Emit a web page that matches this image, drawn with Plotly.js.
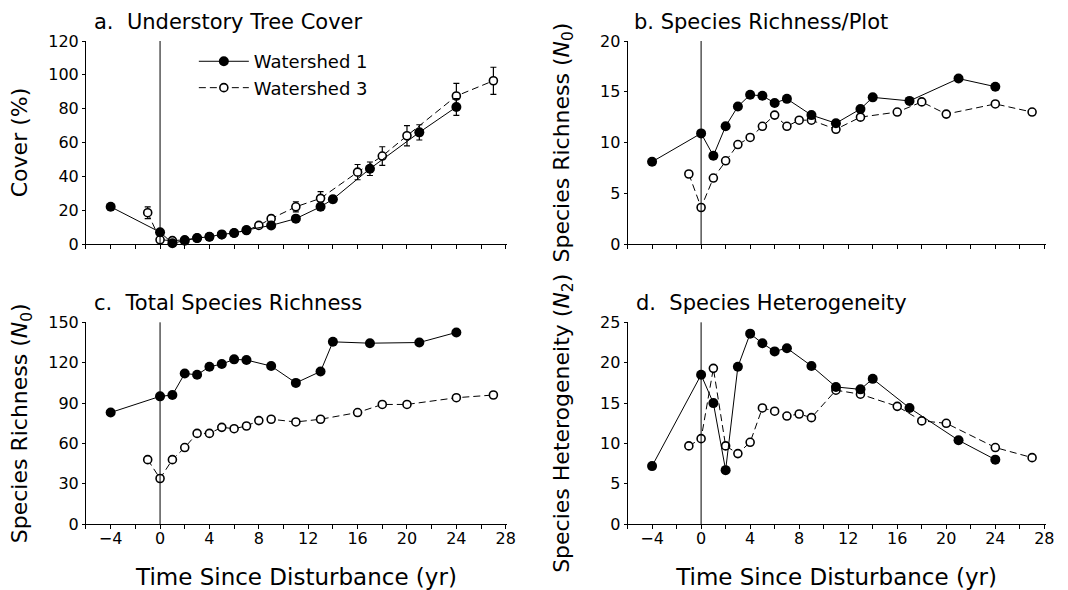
<!DOCTYPE html>
<html>
<head>
<meta charset="utf-8">
<script src="https://cdn.plot.ly/plotly-3.0.1.min.js"></script>
<style>html,body{margin:0;padding:0;background:#fff;}#chart{width:1068px;height:590px;}</style>
</head>
<body>
<div id="chart"></div>
<script>
// Years sampled for each watershed
const yearsW1 = [-4, 0, 1, 2, 3, 4, 5, 6, 7, 9, 11, 13, 14, 17, 21, 24];
const yearsW3 = [-1, 0, 1, 2, 3, 4, 5, 6, 7, 8, 9, 11, 13, 16, 18, 20, 24, 27];

// a. Understory tree cover (%)
const coverW1 = [22, 7, 0.5, 2, 3.5, 4.3, 5.7, 6.5, 8.3, 11, 15, 22, 26.5, 44.5, 66, 81];
const coverErrW1 = [0, 0, 0, 0, 0, 0, 0, 0, 0, 1, 1.5, 2, 2, 4, 4.5, 5];
const coverW3 = [18.5, 2.5, 2, 2.5, 3.5, 4.3, 5.5, 6.5, 8, 11, 15, 22, 27, 42.5, 52, 64, 87.5, 96.5];
const coverErrW3 = [3.5, 0, 0, 0, 0, 0, 0, 0, 0, 1.5, 2, 3, 4, 4.5, 5.5, 6, 7.5, 8];

// b. Species richness per plot (N0)
const richPlotW1 = [8.1, 10.9, 8.7, 11.6, 13.55, 14.7, 14.6, 13.9, 14.3, 12.7, 11.9, 13.3, 14.45, 14.1, 16.3, 15.5];
const richPlotW3 = [6.9, 3.6, 6.5, 8.2, 9.8, 10.5, 11.6, 12.7, 11.6, 12.2, 12.2, 11.3, 12.5, 13.0, 14.0, 12.8, 13.8, 13.0];

// c. Total species richness (N0)
const richTotW1 = [83, 95, 96, 112, 111, 117, 119, 122.5, 122, 117.5, 105, 113.5, 135.5, 134.5, 135, 142.5];
const richTotW3 = [48, 34, 48, 57, 67.5, 67.5, 72, 71, 73, 77, 78, 76, 78, 83, 89, 89, 94, 96];

// d. Species heterogeneity (N2)
const hetW1 = [7.2, 18.5, 15.0, 6.7, 19.5, 23.6, 22.4, 21.4, 21.8, 19.6, 17.0, 16.7, 18.0, 14.4, 10.4, 8.0];
const hetW3 = [9.7, 10.6, 19.3, 9.7, 8.75, 10.15, 14.4, 14.0, 13.4, 13.65, 13.2, 16.6, 16.1, 14.6, 12.8, 12.5, 9.5, 8.25];

const seriesNames = ['Watershed 1', 'Watershed 3'];
const panelTitles = ['a.\u00a0 Understory Tree Cover', 'b. Species Richness/Plot',
                     'c.\u00a0 Total Species Richness', 'd.\u00a0 Species Heterogeneity'];
const yTitles = ['Cover (%)', 'Species Richness (<i>N</i><sub>0</sub>)',
                 'Species Richness (<i>N</i><sub>0</sub>)', 'Species Heterogeneity (<i>N</i><sub>2</sub>)'];
const xTitle = 'Time Since Disturbance (yr)';

const FONT = 'DejaVu Sans, Liberation Sans, sans-serif';

function w3Trace(y, xa, ya, err, legend) {
  const t = {
    x: yearsW3, y: y, xaxis: xa, yaxis: ya, type: 'scatter', mode: 'lines+markers',
    name: seriesNames[1], showlegend: !!legend, cliponaxis: false,
    line: {color: 'black', width: 1, dash: '7px,4px'},
    marker: {symbol: 'circle', size: 8, color: 'white', line: {color: 'black', width: 1.6}}
  };
  if (err) t.error_y = {type: 'data', array: err, visible: true, color: 'black', thickness: 1.2, width: 3};
  return t;
}
function w1Trace(y, xa, ya, err, legend) {
  const t = {
    x: yearsW1, y: y, xaxis: xa, yaxis: ya, type: 'scatter', mode: 'lines+markers',
    name: seriesNames[0], showlegend: !!legend, cliponaxis: false,
    line: {color: 'black', width: 1},
    marker: {symbol: 'circle', size: 10, color: 'black', line: {color: 'black', width: 0}}
  };
  if (err) t.error_y = {type: 'data', array: err, visible: true, color: 'black', thickness: 1.2, width: 3};
  return t;
}

const data = [
  w3Trace(coverW3, 'x', 'y', coverErrW3, true),
  w1Trace(coverW1, 'x', 'y', coverErrW1, true),
  w3Trace(richPlotW3, 'x2', 'y2'),
  w1Trace(richPlotW1, 'x2', 'y2'),
  w3Trace(richTotW3, 'x3', 'y3'),
  w1Trace(richTotW1, 'x3', 'y3'),
  w3Trace(hetW3, 'x4', 'y4'),
  w1Trace(hetW1, 'x4', 'y4')
];

const leftDom = [0.0805, 0.4747];
const rightDom = [0.5876, 0.979];
const topDom = [0.5864, 0.9305];
const botDom = [0.1114, 0.4537];

function xAxis(dom, anchor, labels) {
  const ax = {
    domain: dom, anchor: anchor, range: [-6, 28.1], showgrid: false, zeroline: false,
    showline: true, linecolor: 'black', linewidth: 1, mirror: false,
    tickmode: 'linear', tick0: 0, dtick: 4, ticks: 'outside', ticklen: 4, tickwidth: 1, tickcolor: 'black',
    minor: {tick0: 0, dtick: 2, ticks: 'outside', ticklen: 4, tickwidth: 1, tickcolor: 'black', showgrid: false},
    showticklabels: labels, tickfont: {family: FONT, size: 16, color: 'black'},
    automargin: false, fixedrange: true
  };
  if (labels) {
    ax.ticklabelstandoff = -4;
    ax.title = {text: xTitle, font: {family: FONT, size: 23, color: 'black'}, standoff: 22};
  }
  return ax;
}
function yAxis(dom, anchor, maxv, step, title, standoff) {
  return {
    domain: dom, anchor: anchor, range: [0, maxv], showgrid: false, zeroline: false,
    showline: true, linecolor: 'black', linewidth: 1,
    tickmode: 'linear', tick0: 0, dtick: step, ticks: 'outside', ticklen: 3, tickwidth: 1, tickcolor: 'black',
    tickfont: {family: FONT, size: 16, color: 'black'},
    title: {text: title, font: {family: FONT, size: 22, color: 'black'}, standoff: standoff},
    automargin: false, fixedrange: true
  };
}

const layout = {
  width: 1068, height: 590,
  margin: {l: 0, r: 0, t: 0, b: 0},
  paper_bgcolor: 'white', plot_bgcolor: 'white',
  font: {family: FONT, color: 'black'},
  showlegend: true,
  legend: {x: 0.1815, y: 0.927, xanchor: 'left', yanchor: 'top', traceorder: 'reversed',
           font: {family: FONT, size: 18, color: 'black'}, bgcolor: 'rgba(0,0,0,0)',
           itemwidth: 50, tracegroupgap: 0},
  xaxis: xAxis(leftDom, 'y', false),
  yaxis: yAxis(topDom, 'x', 120, 20, yTitles[0], 14),
  xaxis2: xAxis(rightDom, 'y2', false),
  yaxis2: yAxis(topDom, 'x2', 20, 5, yTitles[1], 24),
  xaxis3: xAxis(leftDom, 'y3', true),
  yaxis3: yAxis(botDom, 'x3', 150, 30, yTitles[2], 14),
  xaxis4: xAxis(rightDom, 'y4', true),
  yaxis4: yAxis(botDom, 'x4', 25, 5, yTitles[3], 24),
  shapes: ['x', 'x2', 'x3', 'x4'].map((xa, i) => ({
    type: 'line', xref: xa, yref: (i === 0 ? 'y' : 'y' + (i + 1)) + ' domain',
    x0: 0, x1: 0, y0: 0, y1: 1, line: {color: 'black', width: 1}
  })),
  annotations: [
    {x: 0.0861, y: 0.9627, text: panelTitles[0]},
    {x: 0.5918, y: 0.9627, text: panelTitles[1]},
    {x: 0.0861, y: 0.4864, text: panelTitles[2]},
    {x: 0.5936, y: 0.4864, text: panelTitles[3]}
  ].map(a => Object.assign(a, {xref: 'paper', yref: 'paper', xanchor: 'left', yanchor: 'middle',
    showarrow: false, font: {family: FONT, size: 21, color: 'black'}}))
};

Plotly.newPlot('chart', data, layout, {staticPlot: true, displayModeBar: false});
</script>
</body>
</html>
